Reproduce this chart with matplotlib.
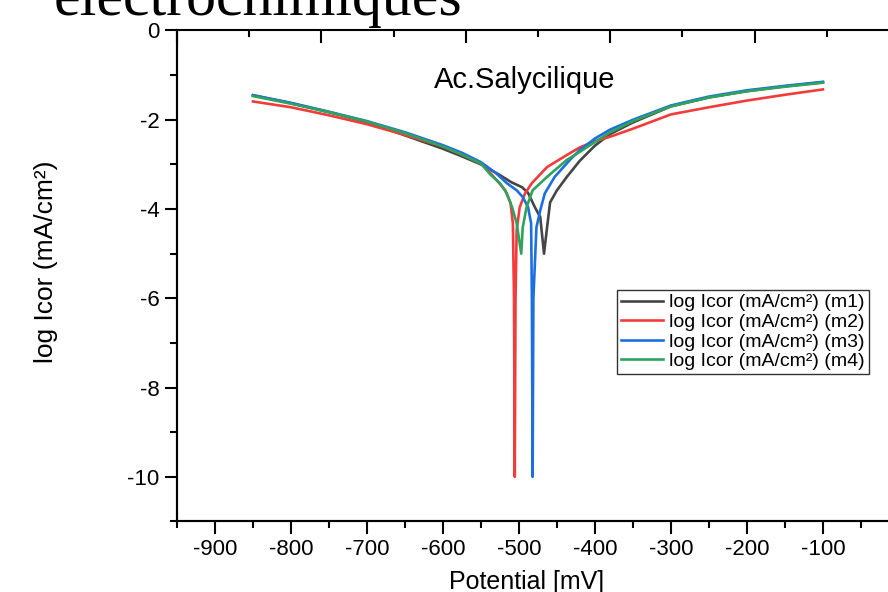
import numpy as np
import matplotlib.pyplot as plt
from matplotlib.ticker import MultipleLocator, NullFormatter

plt.rcParams['font.family'] = ['Liberation Sans', 'DejaVu Sans']
plt.rcParams['axes.unicode_minus'] = False

# potentials (mV) and log Icor for the four samples
E_m1 = [-850, -800, -750, -700, -650, -600, -575, -550, -525, -510, -496, -488, -479, -472, -467,
        -463, -459, -450, -437, -420, -400, -380, -350, -300, -250, -200, -150, -100]
I_m1 = [-1.45, -1.63, -1.83, -2.05, -2.35, -2.65, -2.82, -3.0, -3.24, -3.40, -3.51, -3.64, -3.96, -4.18, -5.0,
        -4.41, -3.85, -3.58, -3.28, -2.92, -2.58, -2.32, -2.06, -1.70, -1.50, -1.36, -1.25, -1.16]

E_m2 = [-850, -800, -750, -700, -650, -600, -575, -550, -540, -529, -518, -511, -508, -506.5, -505.5,
        -504.5, -503, -499, -492, -483, -463, -437, -420, -400, -380, -350, -300, -250, -200, -150, -100]
I_m2 = [-1.59, -1.72, -1.90, -2.10, -2.34, -2.60, -2.78, -2.98, -3.15, -3.36, -3.58, -3.87, -4.32, -6.0, -10.0,
        -6.0, -4.47, -3.96, -3.65, -3.42, -3.06, -2.79, -2.62, -2.48, -2.38, -2.20, -1.88, -1.72, -1.57, -1.44, -1.32]

E_m3 = [-850, -800, -750, -700, -650, -600, -575, -550, -530, -516, -503, -495, -488, -484, -483, -482,
        -481, -477, -472, -466, -453, -433, -420, -400, -380, -350, -300, -250, -200, -150, -100]
I_m3 = [-1.45, -1.62, -1.82, -2.03, -2.28, -2.57, -2.74, -2.95, -3.20, -3.42, -3.58, -3.73, -3.96, -4.32, -6.0, -10.0,
        -6.0, -4.41, -4.03, -3.65, -3.28, -2.90, -2.68, -2.42, -2.22, -2.00, -1.68, -1.48, -1.34, -1.24, -1.15]

E_m4 = [-850, -800, -750, -700, -650, -600, -575, -550, -538, -525, -516, -509, -503, -497,
        -495, -490, -482, -463, -437, -420, -400, -380, -350, -300, -250, -200, -150, -100]
I_m4 = [-1.47, -1.64, -1.83, -2.04, -2.30, -2.60, -2.78, -2.98, -3.22, -3.42, -3.65, -3.96, -4.32, -5.0,
        -4.41, -3.96, -3.58, -3.28, -2.90, -2.72, -2.50, -2.28, -2.03, -1.70, -1.50, -1.36, -1.26, -1.17]

labels = ['log Icor (mA/cm²) (m1)', 'log Icor (mA/cm²) (m2)',
          'log Icor (mA/cm²) (m3)', 'log Icor (mA/cm²) (m4)']
colors = ['#454545', '#f23c3c', '#1d6fe0', '#2fa35e']
xticks = [-900, -800, -700, -600, -500, -400, -300, -200, -100]

fig = plt.figure(figsize=(8.88, 5.92), dpi=100)
ax = fig.add_axes([0.1993, 0.1191, 0.813, 0.8294])

for E, I, lab, c in zip([E_m1, E_m2, E_m3, E_m4], [I_m1, I_m2, I_m3, I_m4], labels, colors):
    ax.plot(E, I, color=c, lw=1.9, label=lab)

ax.set_xlim(-950, 0)
ax.set_ylim(-11, 0)
ax.set_xticks(xticks)
ax.xaxis.set_minor_locator(MultipleLocator(50))
ax.yaxis.set_major_locator(MultipleLocator(2))
ax.yaxis.set_minor_locator(MultipleLocator(1))
ax.tick_params(which='both', direction='out', width=1.5, labelsize=16)
ax.tick_params(which='major', length=9)
ax.tick_params(which='minor', length=5)
for s in ax.spines.values():
    s.set_linewidth(1.5)
ax.spines['top'].set_visible(False)

ax.set_xlabel('Potential [mV]', fontsize=18)
ax.xaxis.set_label_coords(0.484, -0.098)
ax.set_ylabel('log Icor (mA/cm²)', fontsize=19)
ax.yaxis.set_label_coords(-0.165, 0.528)

# top axis (no labels)
ax2 = ax.twiny()
ax2.set_xlim(0, 5.0)
ax2.xaxis.set_major_locator(MultipleLocator(1))
ax2.xaxis.set_minor_locator(MultipleLocator(0.5))
ax2.xaxis.set_major_formatter(NullFormatter())
ax2.tick_params(which='both', direction='in', width=1.5)
ax2.tick_params(which='major', length=9)
ax2.tick_params(which='minor', length=5)
for s in ax2.spines.values():
    s.set_linewidth(1.5)

ax.text(0.482, 0.899, 'Ac.Salycilique', transform=ax.transAxes, fontsize=21,
        ha='center', va='center')

leg = ax.legend(loc='upper left', bbox_to_anchor=(0.609, 0.4715), fontsize=14,
                frameon=True, fancybox=False, borderpad=0.2, borderaxespad=0,
                labelspacing=0.1, handlelength=2.2, handletextpad=0.3)
leg.get_frame().set_edgecolor('black')
leg.get_frame().set_linewidth(1.0)

fig.text(0.06, 0.975, 'electrochimiques', fontsize=43, family='Liberation Serif',
         ha='left', va='baseline')

fig.savefig('out.png', dpi=100)
